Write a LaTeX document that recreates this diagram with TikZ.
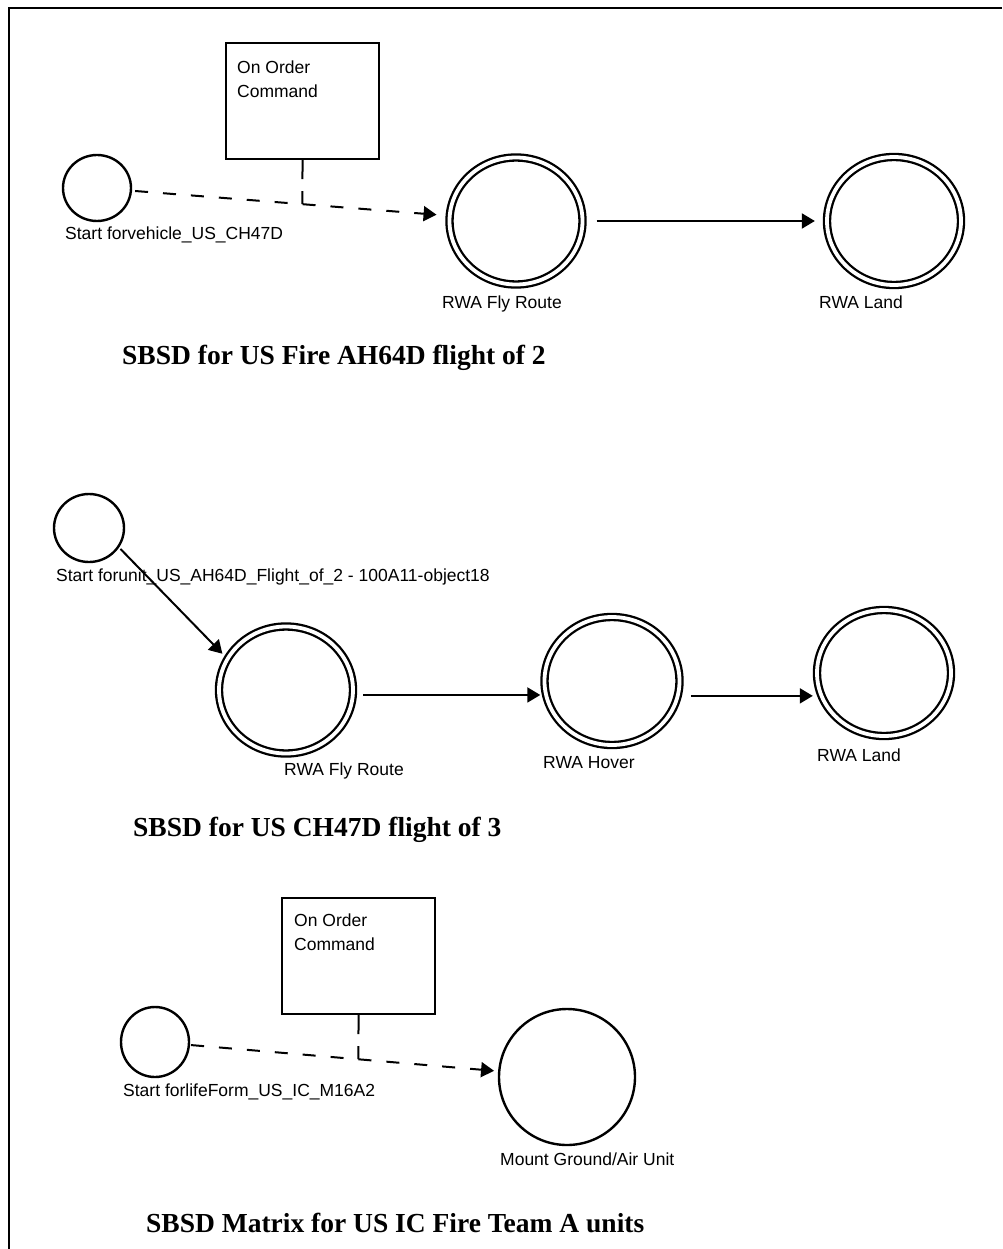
\documentclass[tikz,border=0pt]{standalone}
\usepackage{fontspec}
\setmainfont{Liberation Sans}
\newfontfamily\titlefont{Liberation Serif}
\usetikzlibrary{arrows.meta,calc,shapes.geometric}
\begin{document}
\begin{tikzpicture}[x=1pt,y=-1pt,
  lbl/.style={anchor=base west, inner sep=0pt, font=\fontsize{17.5}{21}\selectfont},
  boxtxt/.style={anchor=north west, inner sep=0pt, align=left, font=\fontsize{17.5}{24}\selectfont},
  ttl/.style={anchor=base west, inner sep=0pt, font=\titlefont\bfseries\fontsize{27.5}{32}\selectfont},
  startst/.style={draw, ellipse, line width=2.4pt, inner sep=0pt, outer sep=1.2pt},
  statest/.style={draw, ellipse, line width=2.3pt, double, double distance=3.8pt, inner sep=0pt, outer sep=4.2pt},
  singlest/.style={draw, ellipse, line width=2.4pt, inner sep=0pt, outer sep=1.2pt},
  cmdbox/.style={draw, rectangle, line width=2.2pt, minimum width=153pt, minimum height=116pt, inner sep=0pt},
  trans/.style={line width=2pt, -{Triangle[length=13pt,width=15pt]}},
  ordtrans/.style={trans, dash pattern=on 13pt off 15pt},
  ordlink/.style={line width=2pt, dash pattern=on 19pt off 12pt on 20pt off 12pt},
]
\fill[white] (0,0) rectangle (1002,1249);
\useasboundingbox (0,0) rectangle (1002,1249);
% frame
\draw[line width=2.5pt] (9,1249) -- (9,8) -- (1002,8);

% ---------- section 1 ----------
\node[cmdbox] (box1) at (302.5,101) {};
\node[boxtxt] (box1t) at (237,61) {On Order\\Command};
\node[startst, minimum width=68pt, minimum height=66pt] (s1) at (97,188) {};
\node[lbl] (s1l) at (65,240) {Start forvehicle\_US\_CH47D};
\node[statest, minimum width=133pt, minimum height=127pt] (f1) at (516,221) {};
\node[lbl] (f1l) at (442,308) {RWA Fly Route};
\node[statest, minimum width=134pt, minimum height=128pt] (l1) at (894,221) {};
\node[lbl] (l1l) at (819,308) {RWA Land};
\node[ttl] (t1) at (122,364) {SBSD for US Fire AH64D flight of 2};

\draw[ordtrans, shorten <=3pt, shorten >=9pt] (s1) -- (f1);
\coordinate (b1) at ($(box1.south)+(0,80)$);
\coordinate (j1) at (intersection of s1--f1 and box1.south--b1);
\draw[ordlink] (box1.south) -- (j1);
\draw[trans, shorten <=10pt, shorten >=8pt] (f1) -- (l1);

% ---------- section 2 ----------
\node[startst, minimum width=70pt, minimum height=68pt] (s2) at (89,528) {};
\node[lbl] (s2l) at (56,581) {Start forunit\_US\_AH64D\_Flight\_of\_2 - 100A11-object18};
\node[statest, minimum width=134pt, minimum height=127pt] (f2) at (286,690) {};
\node[lbl] (f2l) at (284,775) {RWA Fly Route};
\node[statest, minimum width=135pt, minimum height=128pt] (h2) at (612,681) {};
\node[lbl] (h2l) at (543,768) {RWA Hover};
\node[statest, minimum width=134pt, minimum height=126pt] (l2) at (884,673) {};
\node[lbl] (l2l) at (817,761) {RWA Land};
\node[ttl] (t2) at (133,836) {SBSD for US CH47D flight of 3};

\draw[trans, shorten <=2pt, shorten >=3pt] (s2.-33) -- (f2.151);
\draw[trans, shorten <=6pt] (f2.-4) -- (f2.-4 -| h2.west);
\draw[trans, shorten <=9pt] (h2.-12) -- (h2.-12 -| l2.west);

% ---------- section 3 ----------
\node[cmdbox] (box3) at (358.5,956) {};
\node[boxtxt] (box3t) at (294,914) {On Order\\Command};
\node[startst, minimum width=68pt, minimum height=70pt] (s3) at (155,1042) {};
\node[lbl] (s3l) at (123,1096) {Start forlifeForm\_US\_IC\_M16A2};
\node[singlest, minimum width=136pt, minimum height=136pt] (m3) at (567,1077) {};
\node[lbl] (m3l) at (500,1165) {Mount Ground/Air Unit};
\node[ttl] (t3) at (146,1232) {SBSD Matrix for US IC Fire Team A units};

\draw[ordtrans, shorten <=1pt, shorten >=4pt] (s3) -- (m3);
\coordinate (b3) at ($(box3.south)+(0,80)$);
\coordinate (j3) at (intersection of s3--m3 and box3.south--b3);
\draw[ordlink] (box3.south) -- (j3);
\end{tikzpicture}
\end{document}
